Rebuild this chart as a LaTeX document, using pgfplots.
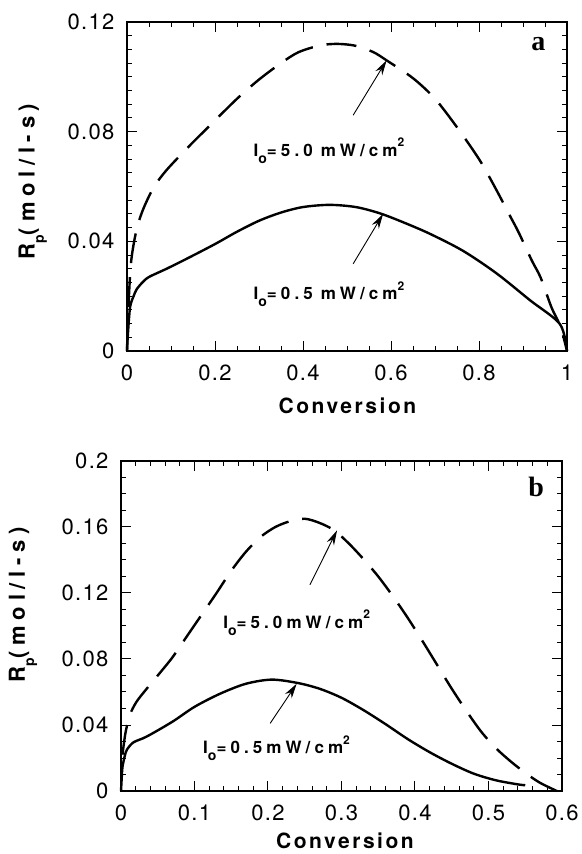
\documentclass[border=0pt]{standalone}
\usepackage{fontspec}
\usepackage{pgfplots}
\pgfplotsset{compat=1.18}
\usetikzlibrary{arrows.meta}
\newfontfamily\hvt[LetterSpace=6]{TeX Gyre Heros}
\newfontfamily\hvl[LetterSpace=12]{TeX Gyre Heros}
\newfontfamily\hvy[LetterSpace=26]{TeX Gyre Heros}
\newfontfamily\hvb[LetterSpace=24]{TeX Gyre Heros}
\newfontfamily\tms{Liberation Serif}
\tikzset{
  solidc/.style={black, line width=2.4pt, smooth, tension=0.5},
  dashc/.style={black, line width=2.4pt, smooth, tension=0.5, dash pattern=on 30pt off 14pt},
  arr/.style={line width=0.9pt, -{Stealth[length=15pt,width=8pt]}},
  lab/.style={font=\hvb\bfseries\fontsize{17}{19}\selectfont, inner sep=0pt},
}
\pgfplotsset{
  common/.style={
    scale only axis, anchor=south west, clip=false,
    axis line style={line width=1.3pt},
    every tick/.style={line width=1pt, black},
    major tick length=10pt, minor tick length=5pt,
    tick align=inside,
    /pgf/number format/assume math mode=true,
    ticklabel style={font=\hvt\fontsize{22}{24}\selectfont},
    yticklabel style={xshift=-9pt},
    xticklabel style={yshift=-10pt},
    xlabel style={font=\hvl\bfseries\fontsize{21}{24}\selectfont},
    ylabel style={font=\hvy\bfseries\fontsize{22}{24}\selectfont},
  },
}
\newcommand{\sub}[1]{\raisebox{-0.42em}{\fontsize{14}{14}\selectfont #1}}
\newcommand{\super}[1]{\raisebox{0.55em}{\fontsize{12}{12}\selectfont #1}}
\begin{document}
\begin{tikzpicture}
\useasboundingbox (0,0) rectangle (581pt,854pt);
% ---------------- panel a ----------------
\begin{axis}[common,
  at={(127pt,503pt)}, width=440pt, height=329pt,
  xmin=0, xmax=1, ymin=0, ymax=0.12,
  xtick={0,0.2,0.4,0.6,0.8,1}, xticklabels={0,0.2,0.4,0.6,0.8,1},
  minor x tick num=3,
  ytick={0,0.04,0.08,0.12}, yticklabels={0,0.04,0.08,0.12},
  minor y tick num=7,
  xlabel={Conversion},
  xlabel style={at={(axis description cs:0.501,-0.166)}, anchor=center},
  ylabel={R\sub{p}(mol/l-s)},
  ylabel style={at={(axis description cs:-0.214,0.515)}, anchor=center, rotate=0},
]
\addplot[dashc] coordinates {
(0.0,0.0) (0.003,0.015) (0.009,0.032) (0.02,0.043) (0.035,0.051) (0.06,0.0595)
(0.09,0.066) (0.14,0.0745) (0.19,0.0825) (0.25,0.092) (0.30,0.099) (0.35,0.105)
(0.39,0.109) (0.44,0.1115) (0.48,0.112) (0.52,0.1113) (0.56,0.109) (0.59,0.106)
(0.65,0.0995) (0.70,0.092) (0.75,0.0816) (0.80,0.070) (0.836,0.0598) (0.87,0.0494)
(0.89,0.0433) (0.92,0.033) (0.94,0.0268) (0.965,0.0158) (0.985,0.009) (1.0,0.0)};
\addplot[solidc] coordinates {
(0,0.0) (0.002,0.006) (0.007,0.016) (0.015,0.020) (0.022,0.0225) (0.035,0.025)
(0.05,0.027) (0.09,0.030) (0.14,0.034) (0.20,0.039) (0.25,0.0435) (0.30,0.0475)
(0.35,0.0505) (0.40,0.0525) (0.46,0.0533) (0.52,0.0525) (0.575,0.0502) (0.63,0.0468)
(0.689,0.0427) (0.764,0.0365) (0.84,0.0283) (0.916,0.0185) (0.984,0.0098) (1.0,0.0)};
\draw[arr] (axis cs:0.514,0.086) -- (axis cs:0.59,0.106);
\draw[arr] (axis cs:0.514,0.0318) -- (axis cs:0.582,0.050);
\node[lab] at (axis cs:0.459,0.073) {I\sub{o}=5.0\hspace{8pt}mW/cm\super{2}};
\node[lab] at (axis cs:0.459,0.0208) {I\sub{o}=0.5\hspace{8pt}mW/cm\super{2}};
\node[font=\tms\bfseries\fontsize{28}{30}\selectfont] at (axis cs:0.935,0.112) {a};
\end{axis}
% ---------------- panel b ----------------
\begin{axis}[common,
  at={(121pt,63pt)}, width=441pt, height=330pt,
  xmin=0, xmax=0.6, ymin=0, ymax=0.2,
  xtick={0,0.1,0.2,0.3,0.4,0.5,0.6}, xticklabels={0,0.1,0.2,0.3,0.4,0.5,0.6},
  minor x tick num=4,
  ytick={0,0.04,0.08,0.12,0.16,0.2}, yticklabels={0,0.04,0.08,0.12,0.16,0.2},
  minor y tick num=3,
  xlabel={Conversion},
  xlabel style={at={(axis description cs:0.508,-0.152)}, anchor=center},
  ylabel={R\sub{p}(mol/l-s)},
  ylabel style={at={(axis description cs:-0.222,0.564)}, anchor=center, rotate=0},
]
\addplot[dashc] coordinates {
(0.002,0.022) (0.006,0.035) (0.012,0.046) (0.021,0.054) (0.035,0.062) (0.05,0.070)
(0.07,0.081) (0.09,0.094) (0.11,0.107) (0.13,0.120) (0.15,0.1335) (0.17,0.145)
(0.19,0.154) (0.21,0.160) (0.23,0.1635) (0.25,0.165) (0.27,0.1625) (0.29,0.158)
(0.31,0.150) (0.33,0.1405) (0.35,0.130) (0.37,0.118) (0.39,0.105) (0.41,0.091)
(0.43,0.0765) (0.45,0.062) (0.47,0.0485) (0.49,0.036) (0.51,0.026) (0.53,0.018)
(0.55,0.011) (0.57,0.005) (0.593,0.0)};
\addplot[solidc] coordinates {
(0,0) (0.001,0.008) (0.002,0.0145) (0.005,0.021) (0.008,0.025) (0.017,0.0295)
(0.035,0.033) (0.07,0.042) (0.10,0.051) (0.135,0.059) (0.17,0.065) (0.205,0.0675)
(0.24,0.0655) (0.27,0.062) (0.30,0.0565) (0.33,0.049) (0.36,0.0405) (0.39,0.0315)
(0.42,0.0235) (0.45,0.0165) (0.48,0.0105) (0.51,0.0065) (0.54,0.004) (0.55,0.0035)};
\draw[arr] (axis cs:0.257,0.125) -- (axis cs:0.294,0.158);
\draw[arr] (axis cs:0.203,0.041) -- (axis cs:0.239,0.065);
\node[lab] at (axis cs:0.239,0.102) {I\sub{o}=5.0mW/cm\super{2}};
\node[lab] at (axis cs:0.2116,0.026) {I\sub{o}=0.5mW/cm\super{2}};
\node[font=\tms\bfseries\fontsize{28}{30}\selectfont] at (axis cs:0.565,0.184) {b};
\end{axis}
\end{tikzpicture}
\end{document}
